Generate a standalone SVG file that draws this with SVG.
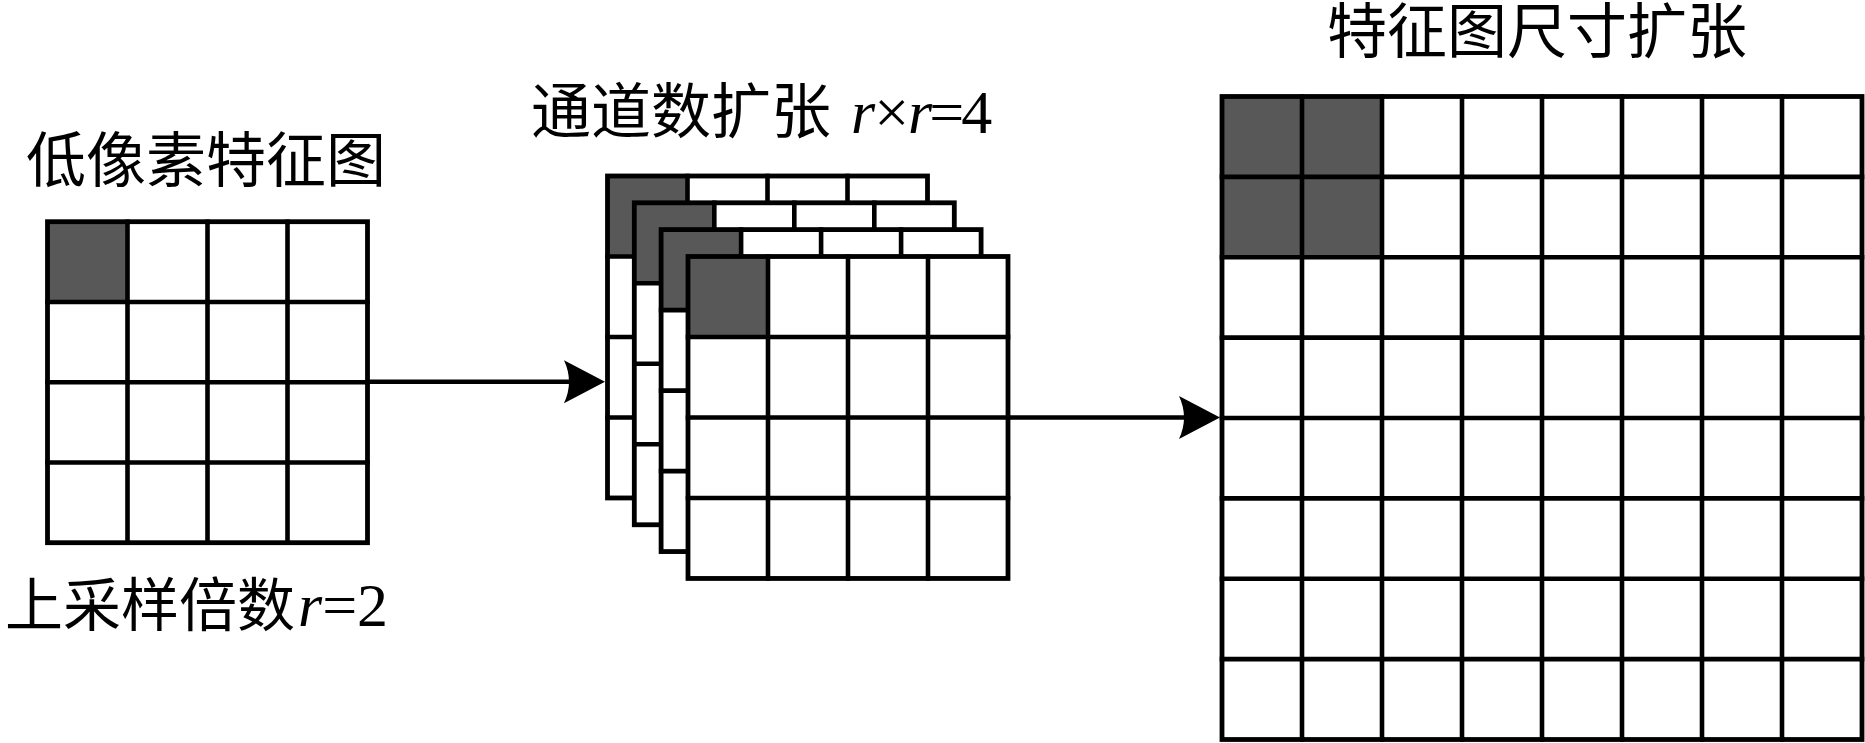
<svg xmlns="http://www.w3.org/2000/svg" xmlns:xlink="http://www.w3.org/1999/xlink" width="1865" height="743" viewBox="0 0 1865 743">
  <style>
    .bg { fill: #ffffff; }
    .dark { fill: #585858; }
    .ln { stroke: #000000; stroke-width: 4.6; fill: none; stroke-linecap: square; }
    .outer { stroke: #000000; stroke-width: 4.8; fill: none; stroke-linejoin: miter; }
    .conn { stroke: #000000; stroke-width: 4.6; fill: none; }
    .txt { font-family: 'Liberation Serif', 'Noto Sans CJK SC', serif; fill: #000000; }
    .lat { font-family: 'Liberation Serif', serif; font-size: 62px; }
    .it { font-style: italic; }
  </style>
  <defs>
    <marker id="ah" markerUnits="userSpaceOnUse" viewBox="-50 -25 55 50" markerWidth="55" markerHeight="50" refX="-10" refY="0" orient="auto" overflow="visible">
      <path d="M0,0 L-41,-21.5 Q-31,0 -41,21.5 Z" fill="#000000"/>
    </marker>
    <g id="grid4">
      <rect class="bg" x="0" y="0" width="320" height="321"/>
      <rect class="dark" x="0" y="0" width="80" height="80.25"/>
      <path class="ln" d="M80,0V321 M160,0V321 M240,0V321 M0,80.25H320 M0,160.5H320 M0,240.75H320"/>
      <rect class="outer" x="0" y="0" width="320" height="321"/>
    </g>
  </defs>
  <rect width="1865" height="743" fill="#ffffff"/>

  <g id="low-res-map">
    <use xlink:href="#grid4" href="#grid4" transform="translate(47.5,221.7)"/>
    <text class="txt" x="26" y="182" font-size="60">低像素特征图</text>
    <text class="txt" x="5" y="626" font-size="58">上采样倍数<tspan class="lat it" x="298">r</tspan><tspan class="lat">=2</tspan></text>
  </g>

  <g id="channel-stack">
    <g id="channel-1"><use xlink:href="#grid4" href="#grid4" transform="translate(607.5,176) scale(1,1.003)"/></g>
    <g id="channel-2"><use xlink:href="#grid4" href="#grid4" transform="translate(634.3,202.8) scale(1,1.003)"/></g>
    <g id="channel-3"><use xlink:href="#grid4" href="#grid4" transform="translate(661.1,229.6) scale(1,1.003)"/></g>
    <g id="channel-4"><use xlink:href="#grid4" href="#grid4" transform="translate(688,256.5) scale(1,1.003)"/></g>
    <text class="txt" x="531" y="133" font-size="60">通道数扩张<tspan class="lat it" x="851">r</tspan><tspan class="lat" dx="-1">×</tspan><tspan class="lat it" dx="-1">r</tspan><tspan class="lat" dx="-3">=</tspan><tspan class="lat" dx="-3">4</tspan></text>
  </g>

  <g id="expanded-map">
    <rect class="bg" x="1222" y="96.5" width="640" height="643"/>
    <rect class="dark" x="1222" y="96.5" width="160" height="160.75"/>
    <path class="ln" d="M1302,96.5V739.5 M1382,96.5V739.5 M1462,96.5V739.5 M1542,96.5V739.5 M1622,96.5V739.5 M1702,96.5V739.5 M1782,96.5V739.5
      M1222,176.9H1862 M1222,257.25H1862 M1222,337.6H1862 M1222,418H1862 M1222,498.4H1862 M1222,578.75H1862 M1222,659.1H1862"/>
    <rect class="outer" x="1222" y="96.5" width="640" height="643"/>
    <text class="txt" x="1327" y="53" font-size="60">特征图尺寸扩张</text>
  </g>

  <g id="connectors">
    <line class="conn" x1="367" y1="381.7" x2="595" y2="381.7" marker-end="url(#ah)"/>
    <line class="conn" x1="1008" y1="417.5" x2="1210" y2="417.5" marker-end="url(#ah)"/>
  </g>
</svg>
